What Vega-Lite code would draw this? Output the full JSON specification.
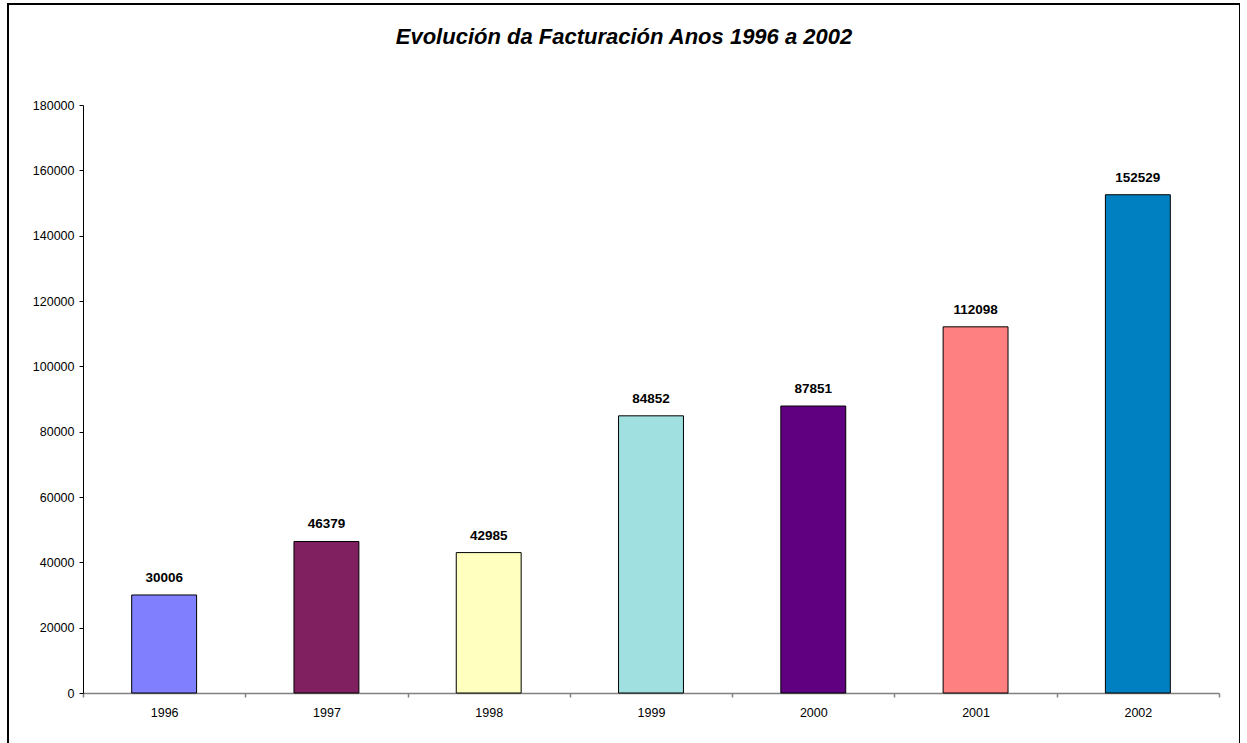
{
  "$schema": "https://vega.github.io/schema/vega-lite/v6.json",
  "autosize": "none",
  "padding": {"left": 8, "top": 4, "right": 0, "bottom": 0},
  "width": 1232,
  "height": 745,
  "background": "white",
  "config": {
    "font": "Liberation Sans",
    "view": {"stroke": "black", "strokeWidth": 2}
  },
  "title": {
    "text": "Evolución da Facturación Anos 1996 a 2002",
    "fontSize": 22,
    "fontStyle": "italic",
    "fontWeight": "bold",
    "font": "Liberation Sans",
    "color": "black",
    "anchor": "middle",
    "baseline": "alphabetic",
    "offset": -62
  },
  "data": {
    "values": [
      {"ano": "1996", "facturacion": 30006, "cor": "#8080FF"},
      {"ano": "1997", "facturacion": 46379, "cor": "#802060"},
      {"ano": "1998", "facturacion": 42985, "cor": "#FFFFC0"},
      {"ano": "1999", "facturacion": 84852, "cor": "#A0E0E0"},
      {"ano": "2000", "facturacion": 87851, "cor": "#600080"},
      {"ano": "2001", "facturacion": 112098, "cor": "#FF8080"},
      {"ano": "2002", "facturacion": 152529, "cor": "#0080C0"}
    ]
  },
  "encoding": {
    "x": {
      "field": "ano",
      "type": "nominal",
      "sort": null,
      "scale": {"range": [75, 1211], "paddingInner": 0, "paddingOuter": 0},
      "axis": {
        "title": null,
        "orient": "bottom",
        "offset": -56,
        "labelAngle": 0,
        "labelFontSize": 12.5,
        "labelColor": "black",
        "labelPadding": 9,
        "domainColor": "#808080",
        "domainWidth": 1.5,
        "tickColor": "#808080",
        "tickWidth": 1.5,
        "tickSize": 4,
        "tickBand": "extent",
        "grid": false
      }
    },
    "y": {
      "field": "facturacion",
      "type": "quantitative",
      "scale": {"domain": [0, 180000], "range": [689, 101], "nice": false, "zero": true},
      "axis": {
        "title": null,
        "offset": -75,
        "values": [0, 20000, 40000, 60000, 80000, 100000, 120000, 140000, 160000, 180000],
        "format": "d",
        "labelFontSize": 12.5,
        "labelColor": "black",
        "labelPadding": 5,
        "domainColor": "black",
        "tickColor": "black",
        "tickSize": 4,
        "grid": false
      }
    }
  },
  "layer": [
    {
      "mark": {"type": "bar", "width": {"band": 0.4}, "stroke": "black", "strokeWidth": 1},
      "encoding": {
        "color": {"field": "cor", "type": "nominal", "scale": null, "legend": null}
      }
    },
    {
      "mark": {"type": "text", "fontWeight": "bold", "fontSize": 13.5, "dy": -13, "baseline": "alphabetic", "color": "black"},
      "encoding": {
        "text": {"field": "facturacion", "type": "quantitative", "format": "d"}
      }
    }
  ]
}
